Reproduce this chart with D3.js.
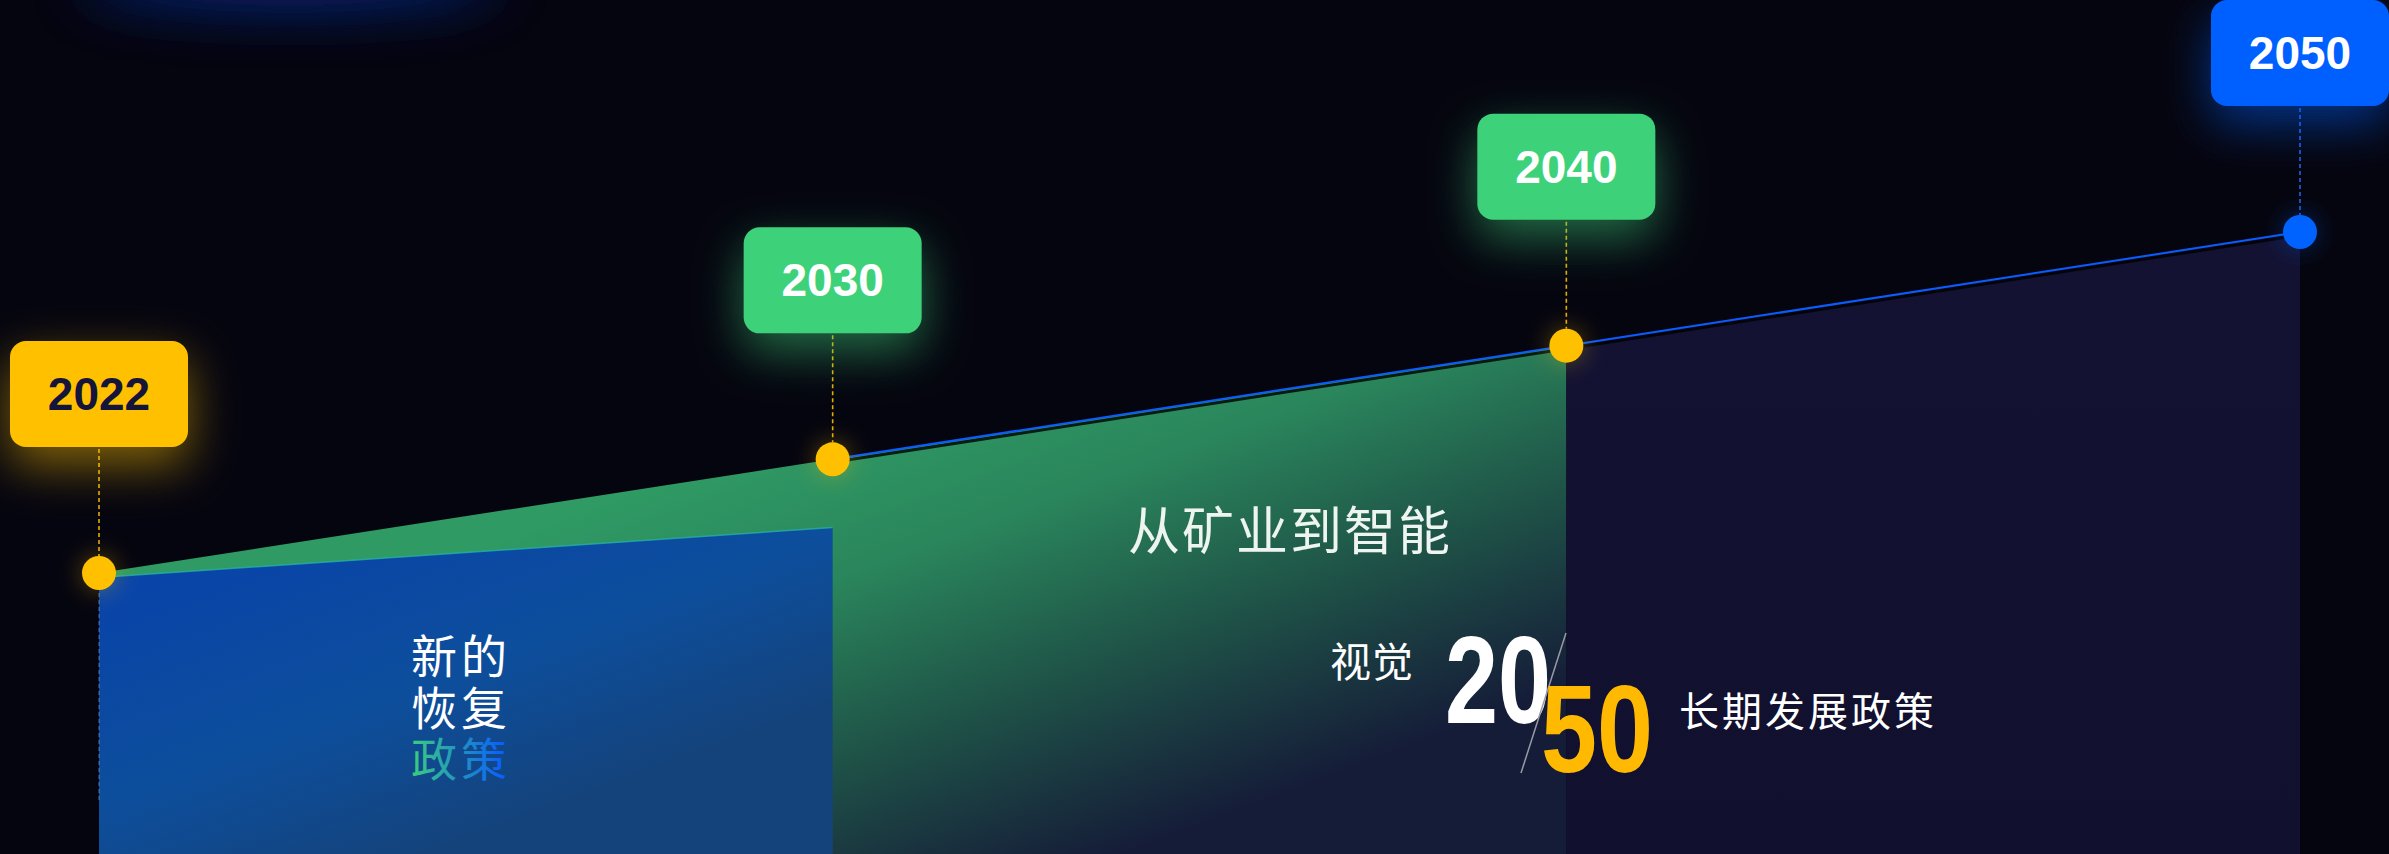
<!DOCTYPE html>
<html lang="zh">
<head>
  <meta charset="UTF-8">
  <style>
    html, body {
      margin: 0;
      padding: 0;
      background: #05050f;
      overflow: hidden;
    }
    #chart {
      display: block;
    }
    .cjk {
      font-family: "Noto Sans CJK SC", "Noto Sans", sans-serif;
    }
  </style>
</head>
<body>
  <svg id="chart"></svg>

  <script src="https://d3js.org/d3.v7.min.js"></script>
  <script>
    // data
    const years = ["2022", "2030", "2040", "2050"];
    const values = [10, 20, 30, 40];
    const bandYears = ["2022", "2030"];
    const bandValues = [9.6, 14.0];
    const labelTheme = ["yellow", "green", "green", "blue"];

    const width = 2389, height = 854;

    const svg = d3.select("#chart")
      .attr("width", width)
      .attr("height", height);

    const palette = {
      yellow: { box: "#ffc000", text: "#15143a", dot: "#ffc000", dash: "#e6aa00" },
      green:  { box: "#3dd27a", text: "#ffffff", dot: "#ffc000", dash: "#e6aa00" },
      blue:   { box: "#0060ff", text: "#ffffff", dot: "#0062ff", dash: "#1f63e8" }
    };

    const x = d3.scalePoint().domain(years).range([99, 2300]);
    const y = d3.scaleLinear().domain([10, 40]).range([573, 232]);

    const pts = years.map((yr, i) => ({ year: yr, value: values[i], theme: labelTheme[i] }));

    const defs = svg.append("defs");

    // glow filters for the year boxes
    Object.keys(palette).forEach(k => {
      const f = defs.append("filter").attr("id", "glow-" + k)
        .attr("x", "-80%").attr("y", "-80%").attr("width", "260%").attr("height", "300%");
      f.append("feGaussianBlur").attr("in", "SourceGraphic").attr("stdDeviation", 24).attr("result", "b");
      f.append("feOffset").attr("in", "b").attr("dy", 18).attr("result", "o");
      f.append("feComponentTransfer").attr("in", "o").attr("result", "g")
        .append("feFuncA").attr("type", "linear").attr("slope", 0.5);
      const m = f.append("feMerge");
      m.append("feMergeNode").attr("in", "g");
      m.append("feMergeNode").attr("in", "SourceGraphic");
    });

    const softGlow = defs.append("filter").attr("id", "soft")
      .attr("x", "-100%").attr("y", "-200%").attr("width", "300%").attr("height", "500%");
    softGlow.append("feGaussianBlur").attr("stdDeviation", 28);

    const dotGlow = defs.append("filter").attr("id", "dotglow")
      .attr("x", "-200%").attr("y", "-200%").attr("width", "500%").attr("height", "500%");
    dotGlow.append("feGaussianBlur").attr("in", "SourceGraphic").attr("stdDeviation", 12).attr("result", "b");
    dotGlow.append("feComponentTransfer").attr("in", "b").attr("result", "g")
      .append("feFuncA").attr("type", "linear").attr("slope", 0.35);
    const dm = dotGlow.append("feMerge");
    dm.append("feMergeNode").attr("in", "g");
    dm.append("feMergeNode").attr("in", "SourceGraphic");

    // gradients
    const gGreen = defs.append("linearGradient").attr("id", "gGreen")
      .attr("gradientUnits", "userSpaceOnUse")
      .attr("x1", 900).attr("y1", 390).attr("x2", 1080).attr("y2", 870);
    gGreen.append("stop").attr("offset", "0%").attr("stop-color", "#2f9a64");
    gGreen.append("stop").attr("offset", "30%").attr("stop-color", "#2a865c");
    gGreen.append("stop").attr("offset", "62%").attr("stop-color", "#1f5548");
    gGreen.append("stop").attr("offset", "100%").attr("stop-color", "#151c38");

    const gBlue = defs.append("linearGradient").attr("id", "gBlue")
      .attr("gradientUnits", "userSpaceOnUse")
      .attr("x1", 300).attr("y1", 530).attr("x2", 420).attr("y2", height);
    gBlue.append("stop").attr("offset", "0%").attr("stop-color", "#0944a8");
    gBlue.append("stop").attr("offset", "55%").attr("stop-color", "#0d4e9c");
    gBlue.append("stop").attr("offset", "100%").attr("stop-color", "#14437c");

    const gNavy = defs.append("linearGradient").attr("id", "gNavy")
      .attr("x1", 0).attr("y1", 0).attr("x2", 0).attr("y2", 1);
    gNavy.append("stop").attr("offset", "0%").attr("stop-color", "#131233");
    gNavy.append("stop").attr("offset", "100%").attr("stop-color", "#11102e");

    const gPolicy = defs.append("linearGradient").attr("id", "gPolicy")
      .attr("gradientUnits", "userSpaceOnUse")
      .attr("x1", 410).attr("y1", 0).attr("x2", 505).attr("y2", 0);
    gPolicy.append("stop").attr("offset", "0%").attr("stop-color", "#3ccf7c");
    gPolicy.append("stop").attr("offset", "100%").attr("stop-color", "#0a5cff");

    // top ambient glow
    svg.append("ellipse")
      .attr("cx", 290).attr("cy", -18).attr("rx", 210).attr("ry", 26)
      .attr("fill", "#0a2a90").attr("opacity", 0.85)
      .attr("filter", "url(#soft)");

    // areas
    const area = d3.area()
      .x(d => x(d.year))
      .y0(height)
      .y1(d => y(d.value));

    svg.append("path")
      .datum(pts.slice(0, 3))
      .attr("d", area)
      .attr("fill", "url(#gGreen)");

    svg.append("path")
      .datum(pts.slice(2, 4))
      .attr("d", area)
      .attr("fill", "url(#gNavy)");

    const band = bandYears.map((yr, i) => ({ year: yr, value: bandValues[i] }));
    svg.append("path")
      .datum(band)
      .attr("d", area)
      .attr("fill", "url(#gBlue)");

    svg.append("path")
      .datum(band)
      .attr("d", d3.line().x(d => x(d.year)).y(d => y(d.value)))
      .attr("fill", "none")
      .attr("stroke", "#27b3aa")
      .attr("stroke-opacity", 0.75)
      .attr("stroke-width", 1.5);

    // main line (shadow + blue stroke) from 2030 onward
    const line = d3.line().x(d => x(d.year)).y(d => y(d.value));
    svg.append("path")
      .datum(pts.slice(1))
      .attr("d", line)
      .attr("fill", "none")
      .attr("stroke", "#000000")
      .attr("stroke-opacity", 0.8)
      .attr("stroke-width", 3)
      .attr("transform", "translate(0,3)");
    svg.append("path")
      .datum(pts.slice(1))
      .attr("d", line)
      .attr("fill", "none")
      .attr("stroke", "#0a5cff")
      .attr("stroke-width", 2);

    // faint guide under the first point
    svg.append("line")
      .attr("x1", x(years[0])).attr("x2", x(years[0]))
      .attr("y1", y(values[0]) + 20).attr("y2", 803)
      .attr("stroke", "#9fc0e8").attr("stroke-opacity", 0.35)
      .attr("stroke-width", 1.5).attr("stroke-dasharray", "4,3");

    // labels, dashed stems, dots
    const boxW = 178, boxH = 106, gap = 126;

    const lab = svg.append("g").selectAll("g")
      .data(pts)
      .join("g")
      .attr("transform", d => `translate(${x(d.year)},${y(d.value)})`);

    lab.append("line")
      .attr("x1", 0).attr("x2", 0)
      .attr("y1", -gap + 2).attr("y2", -17)
      .attr("stroke", d => palette[d.theme].dash)
      .attr("stroke-width", 1.6)
      .attr("stroke-dasharray", "4,3");

    lab.append("rect")
      .attr("x", -boxW / 2).attr("y", -gap - boxH)
      .attr("width", boxW).attr("height", boxH)
      .attr("rx", 16)
      .attr("fill", d => palette[d.theme].box)
      .attr("filter", d => `url(#glow-${d.theme})`);

    lab.append("text")
      .attr("x", 0).attr("y", -gap - boxH / 2 + 16)
      .attr("text-anchor", "middle")
      .attr("font-family", "'Liberation Sans', Arial, sans-serif")
      .attr("font-weight", "bold")
      .attr("font-size", 46)
      .attr("fill", d => palette[d.theme].text)
      .text(d => d.year);

    lab.append("circle")
      .attr("r", 17)
      .attr("fill", d => palette[d.theme].dot)
      .attr("filter", "url(#dotglow)");

    // annotation texts
    const t1 = svg.append("text")
      .attr("class", "cjk")
      .attr("text-anchor", "middle")
      .attr("font-size", 46)
      .attr("letter-spacing", 4);
    t1.append("tspan").attr("x", 461).attr("y", 673).attr("fill", "#ffffff").text("新的");
    t1.append("tspan").attr("x", 461).attr("y", 725).attr("fill", "#ffffff").text("恢复");
    t1.append("tspan").attr("x", 461).attr("y", 776).attr("fill", "url(#gPolicy)").text("政策");

    svg.append("text")
      .attr("class", "cjk")
      .attr("x", 1290).attr("y", 550)
      .attr("text-anchor", "middle")
      .attr("font-size", 52)
      .attr("letter-spacing", 2)
      .attr("fill", "#eef4f0")
      .text("从矿业到智能");

    svg.append("text")
      .attr("class", "cjk")
      .attr("x", 1330).attr("y", 677)
      .attr("font-size", 41)
      .attr("letter-spacing", 1)
      .attr("fill", "#ffffff")
      .text("视觉");

    svg.append("text")
      .attr("x", 1445).attr("y", 723)
      .attr("font-family", "'Liberation Sans Narrow', 'Liberation Sans', Arial, sans-serif")
      .attr("font-weight", "bold")
      .attr("font-size", 125)
      .attr("textLength", 106)
      .attr("lengthAdjust", "spacingAndGlyphs")
      .attr("fill", "#ffffff")
      .text("20");

    svg.append("line")
      .attr("x1", 1566).attr("y1", 633)
      .attr("x2", 1521).attr("y2", 773)
      .attr("stroke", "#9a9aa6")
      .attr("stroke-width", 1.5);

    svg.append("text")
      .attr("x", 1541).attr("y", 772)
      .attr("font-family", "'Liberation Sans Narrow', 'Liberation Sans', Arial, sans-serif")
      .attr("font-weight", "bold")
      .attr("font-size", 125)
      .attr("textLength", 112)
      .attr("lengthAdjust", "spacingAndGlyphs")
      .attr("fill", "#ffb900")
      .text("50");

    svg.append("text")
      .attr("class", "cjk")
      .attr("x", 1679).attr("y", 726)
      .attr("font-size", 40)
      .attr("letter-spacing", 3)
      .attr("fill", "#ffffff")
      .text("长期发展政策");
  </script>
</body>
</html>
